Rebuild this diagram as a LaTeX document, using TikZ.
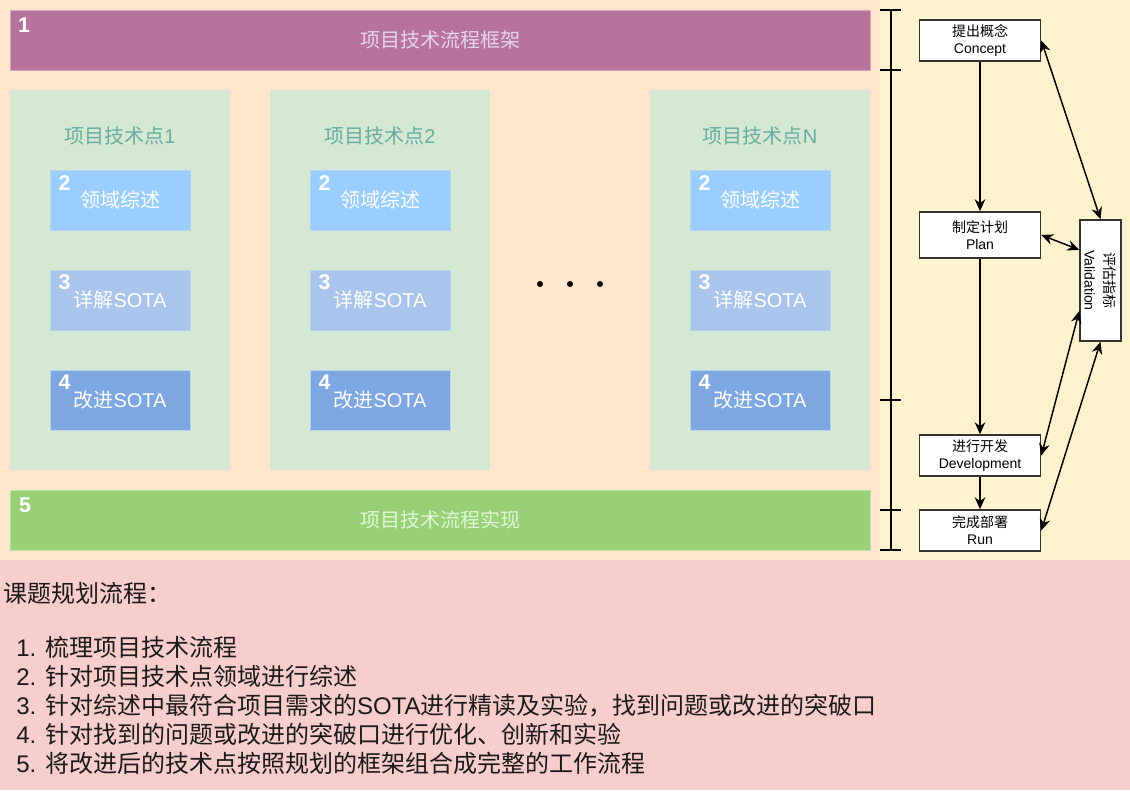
\documentclass[tikz,border=0pt]{standalone}
\usepackage{fontspec}
\setmainfont{Liberation Sans}
\newfontfamily\cjk{Noto Sans CJK SC}
\usetikzlibrary{calc}
\usetikzlibrary{arrows.meta}
\usetikzlibrary{positioning}
\definecolor{Peach}{HTML}{FFE6CC}
\definecolor{PaleYellow}{HTML}{FFF2CC}
\definecolor{Rose}{HTML}{F8CECC}
\definecolor{Plum}{HTML}{B5739D}
\definecolor{PlumLine}{HTML}{D3A6C2}
\definecolor{PlumText}{HTML}{E8D3F0}
\definecolor{Mint}{HTML}{D5E8D4}
\definecolor{MintText}{HTML}{67AB9F}
\definecolor{Leaf}{HTML}{97D077}
\definecolor{LeafLine}{HTML}{B9E0A5}
\definecolor{LeafText}{HTML}{E2F6D6}
\definecolor{SkyBlue}{HTML}{99CCFF}
\definecolor{SoftBlue}{HTML}{A9C4EB}
\definecolor{DeepBlue}{HTML}{7EA6E0}
\definecolor{SubLine}{HTML}{B7D4F0}
\definecolor{Ink}{HTML}{1A1A1A}
\newcommand{\zh}[1]{{\cjk #1}}
\newcommand{\bigtext}{\fontsize{18}{21.75}\selectfont}
\newcommand{\midtext}{\fontsize{15}{18}\selectfont}
\newcommand{\smalltext}{\fontsize{10.5}{12.75}\selectfont}
\tikzset{
  bar/.style={minimum width=645pt, minimum height=45pt, inner sep=0pt,
    line width=0.75pt, font=\midtext},
  column/.style={fill=Mint, minimum width=165pt, minimum height=285pt, inner sep=0pt},
  coltitle/.style={text=MintText, font=\midtext, inner sep=0pt},
  sub/.style={draw=SubLine, line width=0.75pt, minimum width=105pt,
    minimum height=45pt, inner sep=0pt, text=white, font=\midtext},
  num/.style={text=white, font=\fontsize{16}{16}\selectfont\bfseries, inner sep=0pt},
  stage/.style={draw=black!80, fill=white, line width=1.2pt, minimum width=90.75pt,
    minimum height=30.75pt, inner sep=0pt, align=center, font=\smalltext},
  ruler/.style={line width=1.1pt, black},
  flow/.style={line width=1.1pt, -{Stealth[length=9pt,width=8pt,inset=3pt]}},
  link/.style={line width=1.1pt,
    {Stealth[length=9pt,width=8pt,inset=3pt]}-{Stealth[length=9pt,width=8pt,inset=3pt]}}
}
\begin{document}
\begin{tikzpicture}[x=0.75pt, y=-0.75pt]
  \useasboundingbox (0,0) rectangle (1130,800);

  % backgrounds
  \fill[Peach] (0,0) rectangle (880,560);
  \fill[PaleYellow] (880,0) rectangle (1130,560);
  \fill[Rose] (0,560) rectangle (1130,790);

  % framework bar
  \node[bar, fill=Plum, draw=PlumLine, text=PlumText] (frame) at (440,40) {\raisebox{-1.5pt}{\zh{项目技术流程框架}}};
  \node[num] (frameno) at (24,25) {1};

  % technical points
  \foreach \cx/\lbl/\nm in {120/1/a,380/2/b,760/N/n}{%
    \node[column] (col\nm) at (\cx,280) {};
    \node[coltitle] (title\nm) at (\cx,136) {\zh{项目技术点}\lbl};
    \node[sub, fill=SkyBlue] (review\nm) at (\cx,200) {\raisebox{-1.5pt}{\zh{领域综述}}};
    \node[sub, fill=SoftBlue] (study\nm) at (\cx,300) {\zh{详解}SOTA};
    \node[sub, fill=DeepBlue] (improve\nm) at (\cx,400) {\zh{改进}SOTA};
    \node[num] at ($(review\nm.north west)+(15,14)$) {2};
    \node[num] at ($(study\nm.north west)+(15,13)$) {3};
    \node[num] at ($(improve\nm.north west)+(15,13)$) {4};
  }
  \foreach \dx in {540,570,600}{%
    \fill (\dx,284) circle (2.25pt);
  }

  % implementation bar
  \node[bar, fill=Leaf, draw=LeafLine, text=LeafText] (impl) at (440,520) {\raisebox{-1.5pt}{\zh{项目技术流程实现}}};
  \node[num] (implno) at (25,505) {5};

  % ruler
  \draw[ruler] (891,10) -- (891,550);
  \foreach \ty in {10,70,400,510,550}{%
    \draw[ruler] (880,\ty) -- (901,\ty);
  }

  % stages
  \node[stage] (concept) at (980,40.5) {\zh{提出概念}\\Concept};
  \node[stage, minimum height=34.5pt] (plan) at (980,235) {\zh{制定计划}\\Plan};
  \node[stage] (develop) at (980,455.5) {\zh{进行开发}\\Development};
  \node[stage] (run) at (980,530.5) {\zh{完成部署}\\Run};
  \node[stage, minimum width=30.75pt, minimum height=90.75pt] (valid) at (1100.5,280.5) {};
  \node[rotate=-90, align=center, font=\fontsize{10.5}{15}\selectfont, inner sep=0pt] (validtext) at (valid) {\zh{评估指标}\\Validation};

  \draw[flow] (concept) -- (plan);
  \draw[flow] (plan) -- (develop);
  \draw[flow] (develop) -- (run);
  \draw[link] (concept.east) -- (valid.north);
  \draw[link] (plan.east) -- ($(valid.north west)!0.25!(valid.south west)$);
  \draw[link] (develop.east) -- ($(valid.south west)!0.25!(valid.north west)$);
  \draw[link] (run.east) -- (valid.south);

  % plan text
  \node[anchor=west, font=\bigtext, text=Ink, inner sep=0pt] (heading) at (3,593) {\zh{课题规划流程：}};
  \node[anchor=west, font=\bigtext, text=Ink, align=left, inner sep=0pt] (steps) at (16,705)
    {1. \zh{梳理项目技术流程}\\
     2. \zh{针对项目技术点领域进行综述}\\
     3. \zh{针对综述中最符合项目需求的}SOTA\zh{进行精读及实验，找到问题或改进的突破口}\\
     4. \zh{针对找到的问题或改进的突破口进行优化、创新和实验}\\
     5. \zh{将改进后的技术点按照规划的框架组合成完整的工作流程}};
\end{tikzpicture}
\end{document}
